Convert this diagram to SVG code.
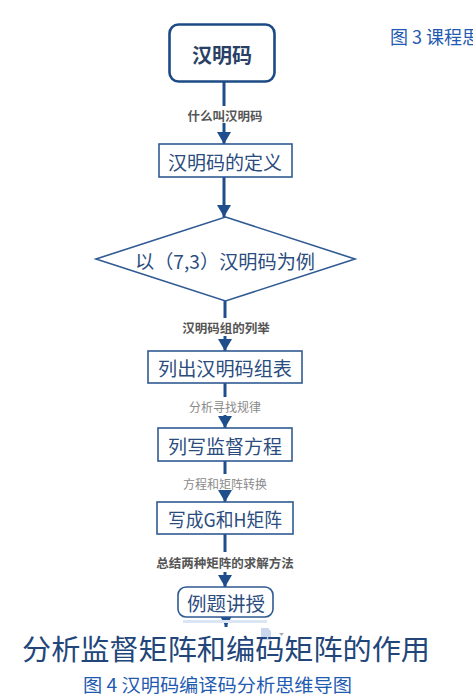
<svg xmlns="http://www.w3.org/2000/svg" width="473" height="697" viewBox="0 0 473 697">
<style>
.box{fill:#fff;stroke:#2f5a93;stroke-width:1.6}
.bt{font-family:"Noto Sans CJK SC","Noto Sans",sans-serif;font-size:19px;fill:#2b4c7e;text-anchor:middle;dominant-baseline:central}
.lb{font-family:"Noto Sans CJK SC","Noto Sans",sans-serif;font-size:12.5px;font-weight:bold;fill:#555;text-anchor:middle;dominant-baseline:central}
.lg{font-family:"Noto Sans CJK SC","Noto Sans",sans-serif;font-size:12px;fill:#8a8a8a;text-anchor:middle;dominant-baseline:central}
.ln{stroke:#1f4e8c;stroke-width:3;fill:none}
.cap{font-family:"Noto Sans CJK SC","Noto Sans",sans-serif;fill:#1f5bb0}
</style>
<defs>
<marker id="ah" markerUnits="userSpaceOnUse" markerWidth="14" markerHeight="15" refX="12" refY="7" orient="auto">
<path d="M0,0 L12,7 L0,14 z" fill="#1f4e8c"/>
</marker>
<marker id="ahs" markerUnits="userSpaceOnUse" markerWidth="12" markerHeight="12" refX="10" refY="5.5" orient="auto">
<path d="M0,0 L10,5.5 L0,11 z" fill="#1f4e8c"/>
</marker>
</defs>
<rect width="473" height="697" fill="#fff"/>

<g id="connectors">
<line class="ln" x1="224" y1="82" x2="224" y2="106"/>
<line class="ln" x1="224" y1="123" x2="224" y2="144" marker-end="url(#ah)"/>
<line class="ln" x1="224" y1="177" x2="224" y2="217" marker-end="url(#ah)"/>
<line class="ln" x1="225" y1="301" x2="225" y2="318"/>
<line class="ln" x1="225" y1="336" x2="225" y2="351" marker-end="url(#ah)"/>
<line class="ln" x1="225" y1="383" x2="225" y2="397"/>
<line class="ln" x1="225" y1="415" x2="225" y2="428" marker-end="url(#ah)"/>
<line class="ln" x1="225" y1="461" x2="225" y2="474"/>
<line class="ln" x1="225" y1="492" x2="225" y2="502" marker-end="url(#ah)"/>
<line class="ln" x1="225" y1="534" x2="225" y2="552"/>
<line class="ln" x1="225" y1="572" x2="225" y2="587" marker-end="url(#ah)"/>
<line class="ln" x1="226" y1="617" x2="226" y2="627" marker-end="url(#ahs)"/>
<text class="lb" x="225" y="115">什么叫汉明码</text>
<text class="lb" x="226" y="327">汉明码组的列举</text>
<text class="lg" x="225" y="406">分析寻找规律</text>
<text class="lg" x="225" y="483">方程和矩阵转换</text>
<text class="lb" x="225" y="562">总结两种矩阵的求解方法</text>
</g>

<g id="n1">
<rect x="169.5" y="24.5" width="105" height="57" rx="9" fill="#fff" stroke="#1c4a85" stroke-width="2.6"/>
<text class="bt" x="222" y="54" style="font-weight:bold;font-size:20px;fill:#2a3f66">汉明码</text>
</g>
<g id="n2">
<rect class="box" x="159" y="144" width="133" height="33"/>
<text class="bt" x="225" y="161">汉明码的定义</text>
</g>
<g id="n3">
<polygon class="box" points="225.5,217 355,259 225.5,301 96,259"/>
<text class="bt" x="225" y="260" textLength="180" lengthAdjust="spacingAndGlyphs">以（7,3）汉明码为例</text>
</g>
<g id="n4">
<rect class="box" x="148" y="351" width="154" height="32"/>
<text class="bt" x="225" y="367" textLength="134" lengthAdjust="spacingAndGlyphs">列出汉明码组表</text>
</g>
<g id="n5">
<rect class="box" x="158" y="428" width="134" height="33"/>
<text class="bt" x="225" y="445" textLength="114" lengthAdjust="spacingAndGlyphs">列写监督方程</text>
</g>
<g id="n6">
<rect class="box" x="157" y="502" width="136" height="32"/>
<text class="bt" x="225" y="518" textLength="114" lengthAdjust="spacingAndGlyphs">写成G和H矩阵</text>
</g>
<g id="n7">
<rect class="box" x="178" y="587" width="95" height="30" rx="8"/>
<text class="bt" x="226" y="602" textLength="78" lengthAdjust="spacingAndGlyphs">例题讲授</text>
</g>
<g id="n8">
<rect x="183" y="620" width="84" height="3" fill="#dbe6f4"/>
<path d="M261,628 h7 l3,3 v9 h-10 z" fill="#c9d8ee"/>
<path d="M279,633 l5,0 l-2.5,3 z" fill="#aab"/>
<text class="cap" x="22" y="660" font-size="28" fill="#22467a" style="fill:#22467a" textLength="408" lengthAdjust="spacingAndGlyphs">分析监督矩阵和编码矩阵的作用</text>
</g>

<text class="cap" x="83" y="692" font-size="18" textLength="269" lengthAdjust="spacingAndGlyphs">图 4 汉明码编译码分析思维导图</text>
<text class="cap" x="390" y="44" font-size="18">图 3 课程思</text>
</svg>
